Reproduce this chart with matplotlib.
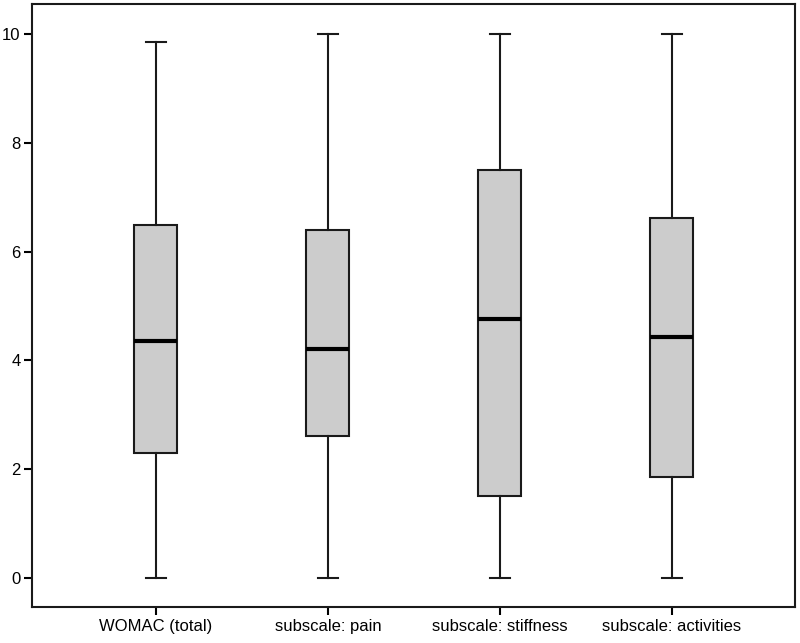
import matplotlib
matplotlib.use("Agg")
import matplotlib.pyplot as plt

categories = ["WOMAC (total)", "subscale: pain", "subscale: stiffness", "subscale: activities"]
whislo = [0.0, 0.0, 0.0, 0.0]
q1 = [2.29, 2.60, 1.50, 1.86]
med = [4.355, 4.20, 4.755, 4.42]
q3 = [6.49, 6.40, 7.50, 6.62]
whishi = [9.86, 10.0, 10.0, 10.0]
yticks = [0, 2, 4, 6, 8, 10]

plt.rcParams['font.family'] = ['Liberation Sans', 'DejaVu Sans']

fig = plt.figure(figsize=(8, 6.43), dpi=100)
ax = fig.add_axes([0.04, 0.056, 0.95375, 0.9378])

stats = []
for i, c in enumerate(categories):
    stats.append(dict(label=c, whislo=whislo[i], q1=q1[i], med=med[i], q3=q3[i],
                      whishi=whishi[i], fliers=[]))

positions = list(range(1, len(categories) + 1))
ax.bxp(stats, positions=positions, widths=0.25, patch_artist=True, showfliers=False,
       boxprops=dict(facecolor='#cccccc', edgecolor='#1a1a1a', linewidth=1.5),
       medianprops=dict(color='black', linewidth=3),
       whiskerprops=dict(color='#1a1a1a', linewidth=1.5),
       capprops=dict(color='#1a1a1a', linewidth=1.5),
       capwidths=0.12)

ax.set_xlim(0.28, 4.715)
ax.set_ylim(-0.54, 10.557)
ax.set_yticks(yticks)
ax.set_yticklabels([str(t) for t in yticks])
ax.set_xticks(positions)
ax.set_xticklabels(categories)
ax.tick_params(axis='both', direction='out', length=5.8, width=1.5, labelsize=12, colors='black', pad=2.5)
for s in ax.spines.values():
    s.set_linewidth(1.5)
    s.set_color('#1a1a1a')

fig.savefig("out.png", dpi=100)
